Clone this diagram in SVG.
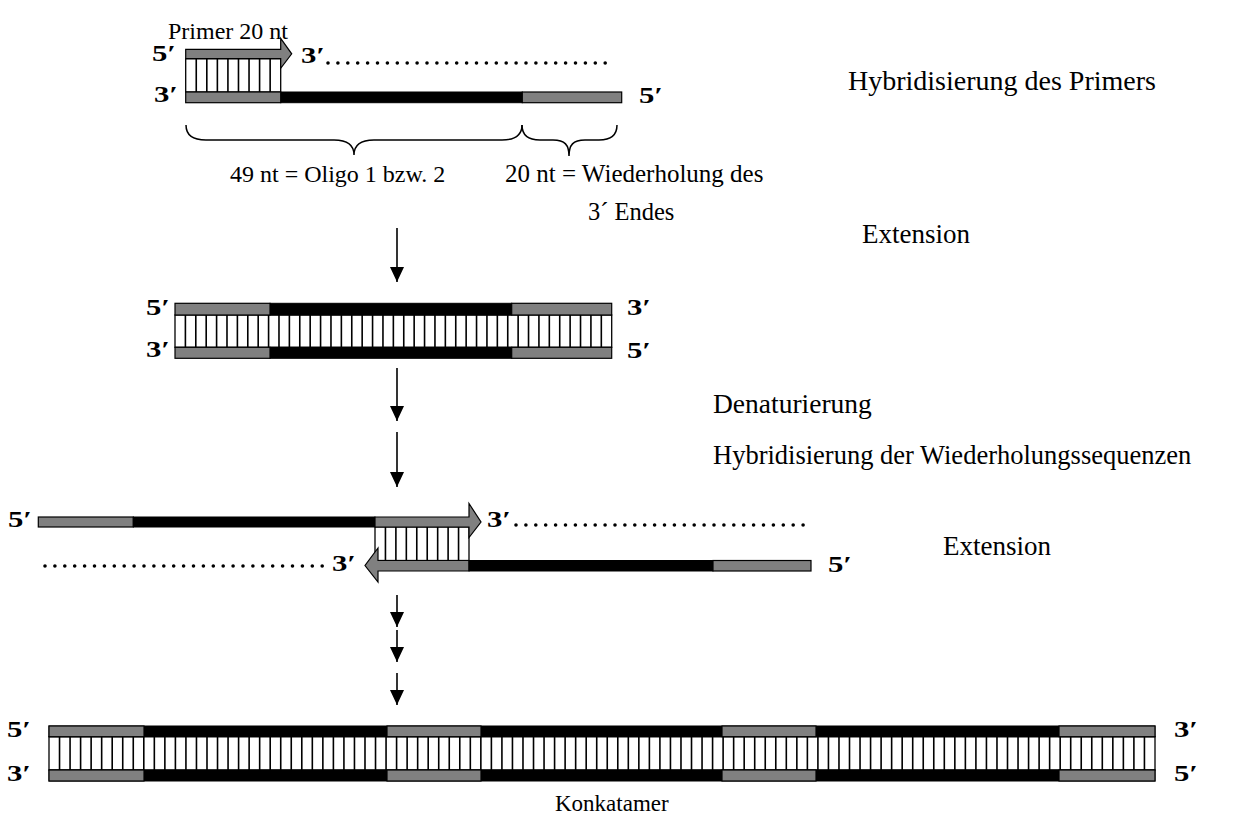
<svg xmlns="http://www.w3.org/2000/svg" width="1238" height="817" viewBox="0 0 1238 817">
<defs>
<style>
.g{fill:#808080;stroke:#000;stroke-width:1.2}
.k{fill:#000;stroke:#000;stroke-width:1}
.box{fill:#fff;stroke:#000;stroke-width:1.3}
.rung{fill:none;stroke:#000;stroke-width:1.6}
.dots{fill:none;stroke:#000;stroke-width:3.6;stroke-linecap:round;stroke-dasharray:0 9.9}
.brace{fill:none;stroke:#000;stroke-width:1.5}
.lbl{font-family:"Liberation Serif","Times New Roman",serif;fill:#000}
.end{font-family:"Liberation Serif","Times New Roman",serif;font-weight:bold;font-size:23px;fill:#000}
.arr{fill:none;stroke:#000;stroke-width:1.6;marker-end:url(#ah)}
</style>
<marker id="ah" viewBox="0 0 15 14" refX="15" refY="7" markerWidth="15" markerHeight="14" markerUnits="userSpaceOnUse" orient="auto">
<path d="M0,0 L15,7 L0,14 Z" fill="#000"/>
</marker>
</defs>
<rect width="1238" height="817" fill="#fff"/>

<g id="primer-hybrid">
<rect class="box" x="185.7" y="58.7" width="95" height="33.3"/>
<path class="rung" d="M185.7,92m10.556-33.3v33.3m10.556-33.3v33.3m10.556-33.3v33.3m10.556-33.3v33.3m10.556-33.3v33.3m10.556-33.3v33.3m10.556-33.3v33.3m10.556-33.3v33.3"/>
<polygon class="g" points="185.7,49.3 280.7,49.3 280.7,38.3 291.7,53.8 280.7,68.3 280.7,58.7 185.7,58.7"/>
<rect class="k" x="280.7" y="92" width="241.6" height="10.7"/>
<rect class="g" x="185.7" y="92" width="95" height="10.7"/>
<rect class="g" x="522.3" y="92" width="99.4" height="10.7"/>
<line class="dots" x1="328" y1="63" x2="615" y2="63"/>
<text class="lbl" x="168" y="39" font-size="24">Primer 20 nt</text>
<text class="end" x="152" y="61" textLength="24" lengthAdjust="spacingAndGlyphs">5′</text>
<text class="end" x="154" y="102" textLength="24" lengthAdjust="spacingAndGlyphs">3′</text>
<text class="end" x="301" y="63" textLength="24" lengthAdjust="spacingAndGlyphs">3′</text>
<text class="end" x="639" y="103" textLength="24" lengthAdjust="spacingAndGlyphs">5′</text>
</g>

<g id="braces">
<path class="brace" d="M186,125 C186,135 192,140 206,140 L334,140 C348,140 354,145 354,155 C354,145 360,140 374,140 L502,140 C516,140 522,135 522,125"/>
<path class="brace" d="M522,125 C522,135 528,140 540,140 L553,140 C565,140 569,145 569,156 C569,145 573,140 585,140 L599,140 C611,140 617,135 617,125"/>
<text class="lbl" x="230" y="182" font-size="24">49 nt = Oligo 1 bzw. 2</text>
<text class="lbl" x="505" y="182" font-size="25">20 nt = Wiederholung des</text>
<text class="lbl" x="588" y="220" font-size="24.5">3´ Endes</text>
</g>

<g id="duplex">
<rect class="box" x="175" y="315" width="436.7" height="32.3"/>
<path class="rung" d="M175,347.3m10.398-32.3v32.3m10.398-32.3v32.3m10.398-32.3v32.3m10.398-32.3v32.3m10.398-32.3v32.3m10.398-32.3v32.3m10.398-32.3v32.3m10.398-32.3v32.3m10.398-32.3v32.3m10.398-32.3v32.3m10.398-32.3v32.3m10.398-32.3v32.3m10.398-32.3v32.3m10.398-32.3v32.3m10.398-32.3v32.3m10.398-32.3v32.3m10.398-32.3v32.3m10.398-32.3v32.3m10.398-32.3v32.3m10.398-32.3v32.3m10.398-32.3v32.3m10.398-32.3v32.3m10.398-32.3v32.3m10.398-32.3v32.3m10.398-32.3v32.3m10.398-32.3v32.3m10.398-32.3v32.3m10.398-32.3v32.3m10.398-32.3v32.3m10.398-32.3v32.3m10.398-32.3v32.3m10.398-32.3v32.3m10.398-32.3v32.3m10.398-32.3v32.3m10.398-32.3v32.3m10.398-32.3v32.3m10.398-32.3v32.3m10.398-32.3v32.3m10.398-32.3v32.3m10.398-32.3v32.3m10.398-32.3v32.3"/>
<rect class="k" x="270" y="303.3" width="241.7" height="11.7"/>
<rect class="g" x="175" y="303.3" width="95" height="11.7"/>
<rect class="g" x="511.7" y="303.3" width="100" height="11.7"/>
<rect class="k" x="270" y="347.3" width="241.7" height="11"/>
<rect class="g" x="175" y="347.3" width="95" height="11"/>
<rect class="g" x="511.7" y="347.3" width="100" height="11"/>
<text class="end" x="146" y="315" textLength="24" lengthAdjust="spacingAndGlyphs">5′</text>
<text class="end" x="146" y="357" textLength="24" lengthAdjust="spacingAndGlyphs">3′</text>
<text class="end" x="627" y="315" textLength="24" lengthAdjust="spacingAndGlyphs">3′</text>
<text class="end" x="627" y="358" textLength="24" lengthAdjust="spacingAndGlyphs">5′</text>
</g>

<g id="repeat-hybrid">
<rect class="box" x="375" y="527" width="94" height="33.5"/>
<path class="rung" d="M375,560.5m10.444-33.5v33.5m10.444-33.5v33.5m10.444-33.5v33.5m10.444-33.5v33.5m10.444-33.5v33.5m10.444-33.5v33.5m10.444-33.5v33.5m10.444-33.5v33.5"/>
<rect class="g" x="38.3" y="517" width="95" height="10"/>
<rect class="k" x="133.3" y="517" width="241.7" height="10"/>
<polygon class="g" points="375,517 469,517 469,503.5 481,522 469,537.5 469,527 375,527"/>
<polygon class="g" points="469,560.5 378,560.5 378,548 365,565.5 378,582 378,571 469,571"/>
<rect class="k" x="469" y="560.5" width="244" height="10.5"/>
<rect class="g" x="713" y="560.5" width="98" height="10.5"/>
<line class="dots" x1="516" y1="525" x2="805" y2="525"/>
<line class="dots" x1="45" y1="566" x2="328" y2="566"/>
<text class="end" x="8" y="527" textLength="24" lengthAdjust="spacingAndGlyphs">5′</text>
<text class="end" x="487" y="527" textLength="24" lengthAdjust="spacingAndGlyphs">3′</text>
<text class="end" x="332" y="571" textLength="24" lengthAdjust="spacingAndGlyphs">3′</text>
<text class="end" x="828" y="572" textLength="24" lengthAdjust="spacingAndGlyphs">5′</text>
</g>

<g id="concatemer">
<rect class="box" x="49" y="736.7" width="1106" height="33.3"/>
<path class="rung" d="M49,770m10.533-33.3v33.3m10.533-33.3v33.3m10.533-33.3v33.3m10.533-33.3v33.3m10.533-33.3v33.3m10.533-33.3v33.3m10.533-33.3v33.3m10.533-33.3v33.3
m10.533-33.3v33.3m10.533-33.3v33.3m10.533-33.3v33.3m10.533-33.3v33.3m10.533-33.3v33.3m10.533-33.3v33.3m10.533-33.3v33.3m10.533-33.3v33.3
m10.533-33.3v33.3m10.533-33.3v33.3m10.533-33.3v33.3m10.533-33.3v33.3m10.533-33.3v33.3m10.533-33.3v33.3m10.533-33.3v33.3m10.533-33.3v33.3
m10.533-33.3v33.3m10.533-33.3v33.3m10.533-33.3v33.3m10.533-33.3v33.3m10.533-33.3v33.3m10.533-33.3v33.3m10.533-33.3v33.3m10.533-33.3v33.3
m10.533-33.3v33.3m10.533-33.3v33.3m10.533-33.3v33.3m10.533-33.3v33.3m10.533-33.3v33.3m10.533-33.3v33.3m10.533-33.3v33.3m10.533-33.3v33.3
m10.533-33.3v33.3m10.533-33.3v33.3m10.533-33.3v33.3m10.533-33.3v33.3m10.533-33.3v33.3m10.533-33.3v33.3m10.533-33.3v33.3m10.533-33.3v33.3
m10.533-33.3v33.3m10.533-33.3v33.3m10.533-33.3v33.3m10.533-33.3v33.3m10.533-33.3v33.3m10.533-33.3v33.3m10.533-33.3v33.3m10.533-33.3v33.3
m10.533-33.3v33.3m10.533-33.3v33.3m10.533-33.3v33.3m10.533-33.3v33.3m10.533-33.3v33.3m10.533-33.3v33.3m10.533-33.3v33.3m10.533-33.3v33.3
m10.533-33.3v33.3m10.533-33.3v33.3m10.533-33.3v33.3m10.533-33.3v33.3m10.533-33.3v33.3m10.533-33.3v33.3m10.533-33.3v33.3m10.533-33.3v33.3
m10.533-33.3v33.3m10.533-33.3v33.3m10.533-33.3v33.3m10.533-33.3v33.3m10.533-33.3v33.3m10.533-33.3v33.3m10.533-33.3v33.3m10.533-33.3v33.3
m10.533-33.3v33.3m10.533-33.3v33.3m10.533-33.3v33.3m10.533-33.3v33.3m10.533-33.3v33.3m10.533-33.3v33.3m10.533-33.3v33.3m10.533-33.3v33.3
m10.533-33.3v33.3m10.533-33.3v33.3m10.533-33.3v33.3m10.533-33.3v33.3m10.533-33.3v33.3m10.533-33.3v33.3m10.533-33.3v33.3m10.533-33.3v33.3
m10.533-33.3v33.3m10.533-33.3v33.3m10.533-33.3v33.3m10.533-33.3v33.3m10.533-33.3v33.3m10.533-33.3v33.3m10.533-33.3v33.3m10.533-33.3v33.3"/>
<rect class="k" x="49" y="726" width="1106" height="10.7"/>
<rect class="g" x="49" y="726" width="95" height="10.7"/>
<rect class="g" x="387" y="726" width="94" height="10.7"/>
<rect class="g" x="722" y="726" width="94" height="10.7"/>
<rect class="g" x="1059" y="726" width="96" height="10.7"/>
<rect class="k" x="49" y="770" width="1106" height="11"/>
<rect class="g" x="49" y="770" width="95" height="11"/>
<rect class="g" x="387" y="770" width="94" height="11"/>
<rect class="g" x="722" y="770" width="94" height="11"/>
<rect class="g" x="1059" y="770" width="96" height="11"/>
<text class="end" x="7" y="737" textLength="24" lengthAdjust="spacingAndGlyphs">5′</text>
<text class="end" x="7" y="781" textLength="24" lengthAdjust="spacingAndGlyphs">3′</text>
<text class="end" x="1174" y="737" textLength="24" lengthAdjust="spacingAndGlyphs">3′</text>
<text class="end" x="1174" y="781" textLength="24" lengthAdjust="spacingAndGlyphs">5′</text>
<text class="lbl" x="555" y="811" font-size="23">Konkatamer</text>
</g>

<g id="step-labels">
<text class="lbl" x="848" y="90" font-size="28">Hybridisierung des Primers</text>
<text class="lbl" x="862" y="243" font-size="27">Extension</text>
<text class="lbl" x="713" y="413" font-size="27.5">Denaturierung</text>
<text class="lbl" x="713" y="464" font-size="26.5">Hybridisierung der Wiederholungssequenzen</text>
<text class="lbl" x="943" y="555" font-size="27">Extension</text>
</g>

<g id="connectors">
<line class="arr" x1="397" y1="228" x2="397" y2="282"/>
<line class="arr" x1="397" y1="368" x2="397" y2="421"/>
<line class="arr" x1="397" y1="432" x2="397" y2="487"/>
<line class="arr" x1="397" y1="595" x2="397" y2="627"/>
<line class="arr" x1="397" y1="630" x2="397" y2="662"/>
<line class="arr" x1="397" y1="673" x2="397" y2="705"/>
</g>
</svg>
